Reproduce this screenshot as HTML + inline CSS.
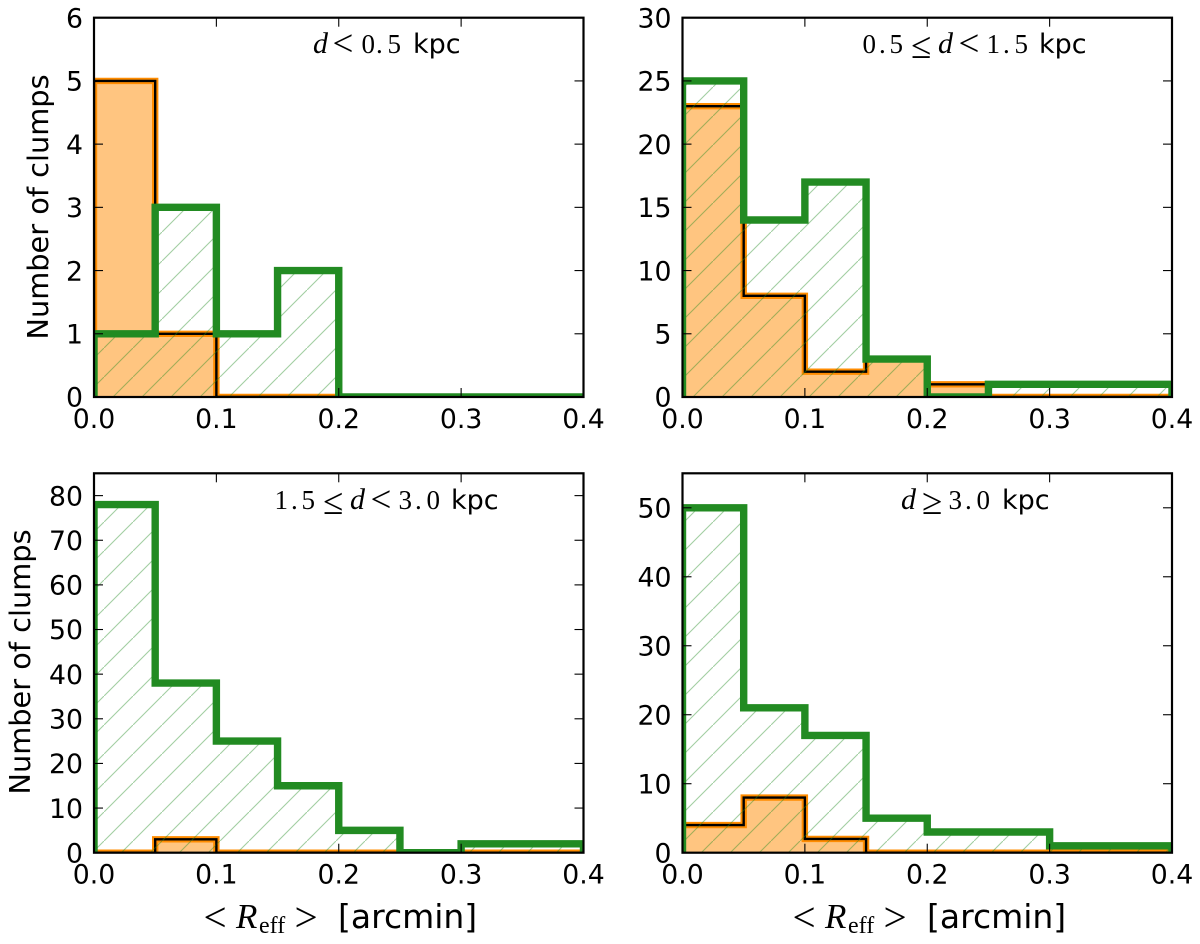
<!DOCTYPE html>
<html lang="en">
<head>
<meta charset="utf-8">
<title>Number of clumps by effective radius</title>
<style>
html,body{margin:0;padding:0;background:#fff;width:1200px;height:944px;overflow:hidden}
svg{display:block;position:absolute;left:0;top:0}
.tick{font-family:"DejaVu Sans",sans-serif;font-size:26.7px;fill:#000}
.sans{font-family:"DejaVu Sans",sans-serif;fill:#000}
.serif{font-family:"Liberation Serif",serif;fill:#000}
.num{font-family:"Liberation Serif",serif;fill:#000;font-size:27px}
.var{font-family:"Liberation Serif",serif;fill:#000;font-size:30px;font-style:italic}
.op{font-family:"Liberation Serif",serif;fill:#000;font-size:37px}
</style>
</head>
<body>
<svg id="figure" xmlns="http://www.w3.org/2000/svg" width="1200" height="944" viewBox="0 0 1200 944">
  <defs>
    <pattern id="hatch" patternUnits="userSpaceOnUse" width="29" height="29" patternTransform="translate(17 0)">
      <line x1="-1" y1="30" x2="30" y2="-1" stroke="#228b22" stroke-opacity="0.42" stroke-width="1.1"/>
    </pattern>
  </defs>
  <g id="plots"></g>

  <text class="sans" font-size="28.8" text-anchor="middle" transform="translate(48 207) rotate(-90)">Number of clumps</text>
  <text class="sans" font-size="28.8" text-anchor="middle" transform="translate(30 662) rotate(-90)">Number of clumps</text>

  <g>
    <text class="serif" x="203.5" y="931" font-size="41">&lt;</text>
    <text class="serif" x="236" y="928" font-size="35" font-style="italic">R</text>
    <text class="serif" x="259" y="933" font-size="24">eff</text>
    <text class="serif" x="294.5" y="931" font-size="41">&gt;</text>
    <text class="sans" x="338" y="928" font-size="33">[arcmin]</text>
  </g>
  <g>
    <text class="serif" x="792.5" y="931" font-size="41">&lt;</text>
    <text class="serif" x="825" y="928" font-size="35" font-style="italic">R</text>
    <text class="serif" x="848" y="933" font-size="24">eff</text>
    <text class="serif" x="883.5" y="931" font-size="41">&gt;</text>
    <text class="sans" x="927" y="928" font-size="33">[arcmin]</text>
  </g>

  <g>
    <text class="var" x="313" y="53">d</text>
    <text class="op" x="332.5" y="55.5">&lt;</text>
    <text class="num" x="361.5" y="53">0</text>
    <text class="num" x="376" y="53">.</text>
    <text class="num" x="387.5" y="53">5</text>
    <text class="sans" x="413" y="53" font-size="27">kpc</text>
  </g>
  <g>
    <text class="num" x="862.5" y="53">0</text>
    <text class="num" x="879" y="53">.</text>
    <text class="num" x="889.5" y="53">5</text>
    <text class="op" x="911" y="58">≤</text>
    <text class="var" x="938" y="53">d</text>
    <text class="op" x="958.5" y="55.5">&lt;</text>
    <text class="num" x="986.5" y="53">1</text>
    <text class="num" x="1003" y="53">.</text>
    <text class="num" x="1014.5" y="53">5</text>
    <text class="sans" x="1039" y="53" font-size="27">kpc</text>
  </g>
  <g>
    <text class="num" x="274.5" y="509">1</text>
    <text class="num" x="291" y="509">.</text>
    <text class="num" x="301.5" y="509">5</text>
    <text class="op" x="323" y="514">≤</text>
    <text class="var" x="350" y="509">d</text>
    <text class="op" x="370.5" y="511.5">&lt;</text>
    <text class="num" x="398.5" y="509">3</text>
    <text class="num" x="415" y="509">.</text>
    <text class="num" x="426.5" y="509">0</text>
    <text class="sans" x="451" y="509" font-size="27">kpc</text>
  </g>
  <g>
    <text class="var" x="901" y="509">d</text>
    <text class="op" x="922" y="514">≥</text>
    <text class="num" x="948.5" y="509">3</text>
    <text class="num" x="965" y="509">.</text>
    <text class="num" x="976.5" y="509">0</text>
    <text class="sans" x="1002" y="509" font-size="27">kpc</text>
  </g>
</svg>

<script>
// Histogram bin edges (arcmin) and x-axis tick labels
const binEdges = [0, 0.05, 0.1, 0.15, 0.2, 0.25, 0.3, 0.35, 0.4];
const xTickValues = [0, 0.1, 0.2, 0.3, 0.4];
const xTickLabels = ['0.0', '0.1', '0.2', '0.3', '0.4'];

// Panel 1: d < 0.5 kpc
const nearOrange = [5, 1, 0, 0, 0, 0, 0, 0];
const nearGreen = [1, 3, 1, 2, 0, 0, 0, 0];
const nearYTicks = [0, 1, 2, 3, 4, 5, 6];
const nearYMax = 6;

// Panel 2: 0.5 <= d < 1.5 kpc
const midOrange = [23, 8, 2, 3, 1, 0, 0, 0];
const midGreen = [25, 14, 17, 3, 0, 1, 1, 1];
const midYTicks = [0, 5, 10, 15, 20, 25, 30];
const midYMax = 30;

// Panel 3: 1.5 <= d < 3.0 kpc
const farOrange = [0, 3, 0, 0, 0, 0, 0, 0];
const farGreen = [78, 38, 25, 15, 5, 0, 2, 2];
const farYTicks = [0, 10, 20, 30, 40, 50, 60, 70, 80];
const farYMax = 85;

// Panel 4: d >= 3.0 kpc
const outerOrange = [4, 8, 2, 0, 0, 0, 0, 0];
const outerGreen = [50, 21, 17, 5, 3, 3, 1, 1];
const outerYTicks = [0, 10, 20, 30, 40, 50];
const outerYMax = 55;

const NS = 'http://www.w3.org/2000/svg';
const plots = document.getElementById('plots');

function make(tag, attrs, parent) {
  const node = document.createElementNS(NS, tag);
  for (const k in attrs) node.setAttribute(k, attrs[k]);
  parent.appendChild(node);
  return node;
}

function drawPanel(id, box, orange, green, yTicks, yMax) {
  const xScale = v => box.left + (v / 0.4) * (box.right - box.left);
  const yScale = v => box.bottom - (v / yMax) * (box.bottom - box.top);

  function stepPath(counts) {
    let d = 'M' + xScale(binEdges[0]) + ' ' + yScale(0);
    counts.forEach((c, i) => {
      d += 'L' + xScale(binEdges[i]) + ' ' + yScale(c);
      d += 'L' + xScale(binEdges[i + 1]) + ' ' + yScale(c);
    });
    d += 'L' + xScale(binEdges[binEdges.length - 1]) + ' ' + yScale(0);
    return d;
  }

  const panel = make('g', {}, plots);
  
  

  const clip = make('clipPath', { id: 'clip-' + id }, panel);
  make('rect', { x: box.left, y: box.top, width: box.right - box.left, height: box.bottom - box.top }, clip);

  const marks = make('g', { 'clip-path': 'url(#clip-' + id + ')' }, panel);
  
  

  const oPath = stepPath(orange);
  const gPath = stepPath(green);

  const oFill = make('path', { d: oPath + 'Z', fill: '#ffc580', stroke: 'none' }, marks);
  
  

  const oEdge = make('path', { d: oPath, fill: 'none', stroke: '#ff8c00', 'stroke-width': 6.4, 'stroke-linejoin': 'miter', 'stroke-linecap': 'butt' }, marks);
  
  

  const oLine = make('path', { d: oPath, fill: 'none', stroke: '#000', 'stroke-width': 2.4, 'stroke-linejoin': 'miter', 'stroke-linecap': 'butt' }, marks);
  
  

  const gHatch = make('path', { d: gPath + 'Z', fill: 'url(#hatch)', stroke: 'none' }, marks);
  
  

  const gEdge = make('path', { d: gPath, fill: 'none', stroke: '#228b22', 'stroke-width': 7.4, 'stroke-linejoin': 'miter', 'stroke-linecap': 'butt' }, marks);
  
  

  xTickValues.forEach((v, i) => {
    const x = xScale(v);
    const t1 = make('line', { x1: x, x2: x, y1: box.bottom, y2: box.bottom - 9, stroke: '#000', 'stroke-width': 1.1 }, panel);
    
    
    const t2 = make('line', { x1: x, x2: x, y1: box.top, y2: box.top + 9, stroke: '#000', 'stroke-width': 1.1 }, panel);
    
    
    const lab = make('text', { x: x, y: box.bottom + 31, 'text-anchor': 'middle', class: 'tick' }, panel);
    lab.textContent = xTickLabels[i];
    
    
  });

  yTicks.forEach(v => {
    const y = yScale(v);
    const t1 = make('line', { x1: box.left, x2: box.left + 9, y1: y, y2: y, stroke: '#000', 'stroke-width': 1.1 }, panel);
    
    
    const t2 = make('line', { x1: box.right, x2: box.right - 9, y1: y, y2: y, stroke: '#000', 'stroke-width': 1.1 }, panel);
    
    
    const lab = make('text', { x: box.left - 11, y: y + 9.7, 'text-anchor': 'end', class: 'tick' }, panel);
    lab.textContent = String(v);
    
    
  });

  const frame = make('rect', { x: box.left, y: box.top, width: box.right - box.left, height: box.bottom - box.top, fill: 'none', stroke: '#000', 'stroke-width': 2.2 }, panel);
  
  
}

const topLeftBox = { left: 94, right: 583.5, top: 17.7, bottom: 397 };
const topRightBox = { left: 682.5, right: 1172, top: 17.7, bottom: 397 };
const bottomLeftBox = { left: 94, right: 583.5, top: 473.3, bottom: 852.7 };
const bottomRightBox = { left: 682.5, right: 1172, top: 473.3, bottom: 852.7 };

drawPanel('near', topLeftBox, nearOrange, nearGreen, nearYTicks, nearYMax);
drawPanel('mid', topRightBox, midOrange, midGreen, midYTicks, midYMax);
drawPanel('far', bottomLeftBox, farOrange, farGreen, farYTicks, farYMax);
drawPanel('outer', bottomRightBox, outerOrange, outerGreen, outerYTicks, outerYMax);
</script>
</body>
</html>
